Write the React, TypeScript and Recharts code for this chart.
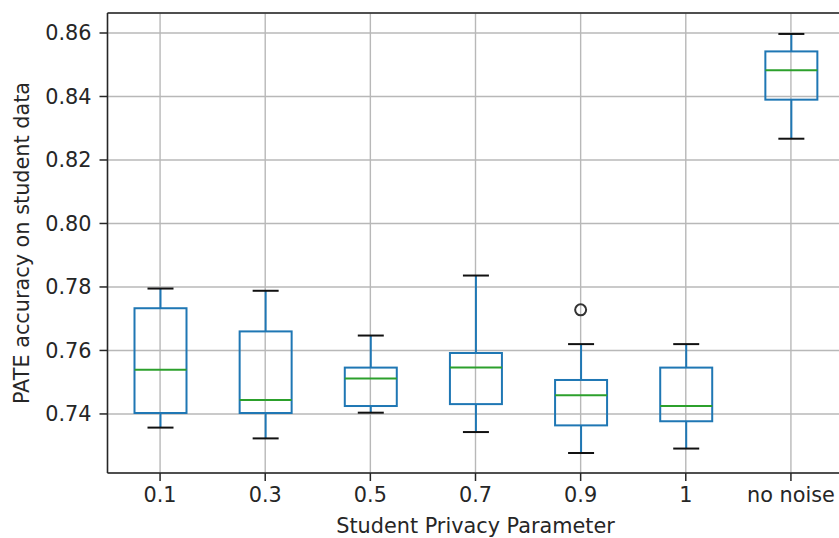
import React from 'react';
import { ComposedChart, Bar, Scatter, XAxis, YAxis, CartesianGrid, ReferenceLine, Label } from 'recharts';

document.body.style.margin = '0';
document.body.style.overflow = 'hidden';

const CATEGORIES = ['0.1', '0.3', '0.5', '0.7', '0.9', '1', 'no noise'];
const WHISKER_LOW = [0.7357, 0.7323, 0.7404, 0.7343, 0.7277, 0.7291, 0.8267];
const Q1 = [0.7403, 0.7403, 0.7425, 0.7431, 0.7364, 0.7377, 0.839];
const MEDIAN = [0.7539, 0.7444, 0.7512, 0.7546, 0.7459, 0.7425, 0.8483];
const Q3 = [0.7733, 0.766, 0.7546, 0.7592, 0.7507, 0.7546, 0.8542];
const WHISKER_HIGH = [0.7795, 0.7788, 0.7647, 0.7836, 0.762, 0.762, 0.8597];
const OUTLIERS = [null, null, null, null, 0.7728, null, null];

const Y_TICKS = [0.74, 0.76, 0.78, 0.8, 0.82, 0.84, 0.86];
const Y_MIN = 0.7214;
const Y_MAX = 0.8663;

const data = CATEGORIES.map((name, i) => ({
  name,
  min: WHISKER_LOW[i],
  q1: Q1[i],
  median: MEDIAN[i],
  q3: Q3[i],
  max: WHISKER_HIGH[i],
  outlier: OUTLIERS[i],
}));

const FONT = '"DejaVu Sans", sans-serif';
const FS = 20.8;
const TEXT = '#262626';
const BLUE = '#1f77b4';
const GREEN = '#2ca02c';

// range bar [min, max] -> the box and whiskers drawn inside it
const BoxShape = (props: any) => {
  const { x, y, width, height, payload } = props;
  if (x == null || y == null) return null;
  const top = Math.min(y, y + height);
  const h = Math.abs(height);
  const { min, q1, median, q3, max } = payload;
  const toY = (v: number) => top + ((max - v) / (max - min)) * h;
  const cx = x + width / 2;
  const capHalf = width / 4;
  return (
    <g>
      <line x1={cx} x2={cx} y1={toY(max)} y2={toY(q3)} stroke={BLUE} strokeWidth={2} />
      <line x1={cx} x2={cx} y1={toY(q1)} y2={toY(min)} stroke={BLUE} strokeWidth={2} />
      <line x1={cx - capHalf} x2={cx + capHalf} y1={toY(max)} y2={toY(max)} stroke="#111" strokeWidth={2} />
      <line x1={cx - capHalf} x2={cx + capHalf} y1={toY(min)} y2={toY(min)} stroke="#111" strokeWidth={2} />
      <rect x={x} y={toY(q3)} width={width} height={toY(q1) - toY(q3)} fill="none" stroke={BLUE} strokeWidth={2} />
      <line x1={x} x2={x + width} y1={toY(median)} y2={toY(median)} stroke={GREEN} strokeWidth={2} />
    </g>
  );
};

const OutlierShape = (props: any) => {
  const { cx, cy, payload } = props;
  if (payload?.outlier == null || cx == null || cy == null) return null;
  return <circle cx={cx} cy={cy} r={5.5} fill="none" stroke="#333" strokeWidth={2} />;
};

const App: React.FC = () => {
  return (
    <div style={{ width: 839, height: 538, overflow: 'hidden' }}>
      <ComposedChart width={860} height={538} data={data} margin={{ top: 13, right: 16.5, left: 0, bottom: 0 }}>
        <CartesianGrid stroke="#b8b8b8" strokeWidth={1.4} />
        <XAxis
          dataKey="name"
          type="category"
          height={65}
          tickSize={8}
          tickMargin={6}
          axisLine={{ stroke: TEXT, strokeWidth: 1.5 }}
          tickLine={{ stroke: TEXT, strokeWidth: 1.5 }}
          tick={{ fill: TEXT, fontSize: FS, fontFamily: FONT }}
          interval={0}
        >
          <Label
            value="Student Privacy Parameter"
            position="insideBottom"
            offset={5}
            style={{ fill: TEXT, fontSize: FS, fontFamily: FONT }}
          />
        </XAxis>
        <YAxis
          type="number"
          domain={[Y_MIN, Y_MAX]}
          ticks={Y_TICKS}
          width={107.5}
          tickSize={8}
          tickMargin={8}
          tickFormatter={(v: number) => v.toFixed(2)}
          axisLine={{ stroke: TEXT, strokeWidth: 1.5 }}
          tickLine={{ stroke: TEXT, strokeWidth: 1.5 }}
          tick={{ fill: TEXT, fontSize: FS, fontFamily: FONT }}
        >
          <Label
            value="PATE accuracy on student data"
            angle={-90}
            position="insideLeft"
            offset={21.5}
            style={{ fill: TEXT, fontSize: FS, fontFamily: FONT, textAnchor: 'middle' }}
          />
        </YAxis>
        <ReferenceLine y={Y_MAX} stroke={TEXT} strokeWidth={1.5} />
        <Bar
          dataKey={(d: any) => [d.min, d.max]}
          barSize={52}
          shape={<BoxShape />}
          isAnimationActive={false}
        />
        <Scatter dataKey="outlier" shape={<OutlierShape />} isAnimationActive={false} />
      </ComposedChart>
    </div>
  );
};

export default App;
